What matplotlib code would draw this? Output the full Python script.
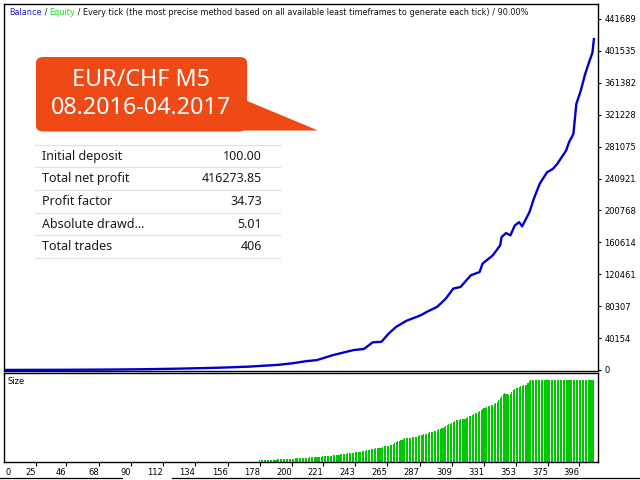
import matplotlib.pyplot as plt
from matplotlib.patches import FancyBboxPatch, Polygon
from matplotlib.lines import Line2D

# balance curve (trade number, balance)
bal_trade = [0, 20, 40, 60, 80, 100, 120, 140, 150, 160, 170, 180, 190, 200, 205,
             210, 217, 228, 242, 249, 255, 261, 266, 271, 278, 288, 292, 299, 305,
             310, 315, 322, 328, 330, 337, 342, 343, 346, 349, 352, 355, 357, 362,
             365, 369, 374, 378, 381, 387, 389, 392, 394, 397, 400, 403, 405, 406]
bal_value = [100, 160, 250, 390, 620, 1000, 1600, 2400, 2900, 3500, 4200, 5300,
             6400, 8400, 9800, 11200, 12500, 18800, 25100, 26400, 34800, 35500,
             46000, 54300, 61900, 69000, 73200, 79400, 90000, 102500, 104500,
             119200, 123300, 133900, 144300, 156800, 167300, 172300, 169400,
             181900, 186100, 180700, 198600, 215500, 234300, 248800, 253100,
             259400, 276100, 286500, 297000, 334700, 351300, 372300, 389000,
             399400, 416374]

# lot size per trade, trades 178..406
size_first_trade = 178
sizes = [0.17, 0.17, 0.18, 0.18, 0.19, 0.20, 0.20, 0.21, 0.22, 0.23,
         0.24, 0.24, 0.25, 0.26, 0.26, 0.27, 0.27, 0.28, 0.29, 0.30,
         0.31, 0.32, 0.33, 0.34, 0.35, 0.36, 0.38, 0.40, 0.40, 0.41,
         0.42, 0.42, 0.43, 0.44, 0.45, 0.46, 0.47, 0.48, 0.49, 0.50,
         0.51, 0.52, 0.53, 0.55, 0.56, 0.57, 0.59, 0.60, 0.62, 0.64,
         0.67, 0.68, 0.70, 0.72, 0.73, 0.75, 0.77, 0.79, 0.81, 0.83,
         0.85, 0.86, 0.88, 0.90, 0.92, 0.95, 0.97, 0.98, 1.00, 1.02,
         1.05, 1.08, 1.10, 1.14, 1.18, 1.22, 1.26, 1.30, 1.33, 1.35,
         1.36, 1.37, 1.38, 1.42, 1.48, 1.54, 1.60, 1.62, 1.62, 1.63,
         1.70, 1.80, 1.90, 2.00, 2.08, 2.12, 2.18, 2.22, 2.28, 2.33,
         2.37, 2.38, 2.40, 2.41, 2.42, 2.43, 2.44, 2.50, 2.56, 2.62,
         2.66, 2.70, 2.72, 2.75, 2.80, 2.86, 2.92, 2.96, 3.00, 3.04,
         3.10, 3.16, 3.22, 3.28, 3.34, 3.40, 3.48, 3.56, 3.64, 3.72,
         3.80, 3.88, 3.96, 4.04, 4.10, 4.14, 4.18, 4.21, 4.24, 4.26,
         4.28, 4.34, 4.42, 4.50, 4.58, 4.66, 4.74, 4.82, 4.88, 4.96,
         5.06, 5.16, 5.26, 5.32, 5.38, 5.44, 5.50, 5.54, 5.60, 5.66,
         5.74, 5.82, 5.90, 6.10, 6.30, 6.50, 6.70, 6.78, 6.74, 6.68,
         6.66, 6.70, 6.90, 7.10, 7.18, 7.26, 7.34, 7.42, 7.48, 7.52,
         7.56, 7.60, 7.64, 7.80, 7.98, 8.10] + [8.10] * 43
size_trade = list(range(size_first_trade, size_first_trade + len(sizes)))

y_ticks = [0, 40154, 80307, 120461, 160614, 200768, 240921, 281075, 321228,
           361382, 401535, 441689]
x_ticks = [25, 46, 68, 90, 112, 134, 156, 178, 200, 221, 243, 265, 287, 309,
           331, 353, 375, 396]

table_labels = ['Initial deposit', 'Total net profit', 'Profit factor',
                'Absolute drawd...', 'Total trades']
table_values = ['100.00', '416273.85', '34.73', '5.01', '406']

callout_lines = ['EUR/CHF M5', '08.2016-04.2017']


def fx(px):
    return px / 640.0


def fy(py):
    return 1 - py / 480.0


fig = plt.figure(figsize=(6.4, 4.8), dpi=100)

ax = fig.add_axes([fx(4.3), fy(370.5), fx(598.3) - fx(4.3), fy(4) - fy(370.5)])
ax2 = fig.add_axes([fx(4.3), fy(462), fx(598.3) - fx(4.3), fy(373) - fy(462)])

xlim = (3.55, 409)

# main balance chart
ax.plot(bal_trade, bal_value, color='#0000cc', lw=1.7, solid_joinstyle='round')
ax.set_xlim(*xlim)
ax.set_ylim(-630, 460560)
ax.set_xticks([])
ax.yaxis.tick_right()
ax.set_yticks(y_ticks)
ax.set_yticklabels([str(v) for v in y_ticks])
ax.tick_params(axis='y', length=2.5, width=0.8, pad=2, labelsize=6)
for s in ax.spines.values():
    s.set_linewidth(1.0)

# title made of coloured pieces
t = ax.text(0.008, 0.978, 'Balance', color='#1a1ad0', fontsize=5.85,
            transform=ax.transAxes, va='center', ha='left')
pieces = [(' / ', '#202020'), ('Equity', '#10e010'),
          (' / Every tick (the most precise method based on all available least '
           'timeframes to generate each tick) / 90.00%', '#111111')]
for txt, col in pieces:
    t = ax.annotate(txt, xy=(1, 0), xycoords=t, va='bottom', ha='left',
                    color=col, fontsize=5.85)

# size panel
ax2.bar(size_trade, sizes, width=0.72, color='#00c800', linewidth=0)
ax2.set_xlim(*xlim)
ax2.set_ylim(0, 8.79)
ax2.set_yticks([])
ax2.set_xticks(x_ticks)
ax2.set_xticklabels([str(v) for v in x_ticks], ha='right')
ax2.tick_params(axis='x', length=3, width=0.8, pad=1.0, labelsize=6)
for s in ax2.spines.values():
    s.set_linewidth(1.0)
ax2.text(0.002, -0.115, '0', transform=ax2.transAxes, fontsize=6,
         ha='left', va='center')
ax2.text(0.005, 0.90, 'Size', transform=ax2.transAxes, fontsize=6,
         ha='left', va='center')

# callout box
box = FancyBboxPatch((fx(36), fy(131.5)), fx(247) - fx(36), fy(57) - fy(131.5),
                     boxstyle='round,pad=0,rounding_size=0.012',
                     transform=fig.transFigure, facecolor='#ef4915',
                     edgecolor='none', zorder=5)
fig.add_artist(box)
tri = Polygon([(fx(245), fy(100)), (fx(318), fy(130.5)), (fx(245), fy(130.5))],
              closed=True, transform=fig.transFigure, facecolor='#ef4915',
              edgecolor='none', zorder=5)
fig.add_artist(tri)
fig.text(fx(141), fy(80), callout_lines[0], color='white', fontsize=16.8,
         family='Noto Sans', ha='center', va='center', zorder=6)
fig.text(fx(141), fy(108.5), callout_lines[1], color='white', fontsize=16.8,
         family='Noto Sans', ha='center', va='center', zorder=6)

# stats table
row_lines = [145, 167.3, 190, 212.7, 235.3, 258.3]
for py in row_lines:
    fig.add_artist(Line2D([fx(35), fx(280)], [fy(py), fy(py)], color='#e2e2e2',
                          lw=0.9, transform=fig.transFigure, zorder=5))
for i, (lab, val) in enumerate(zip(table_labels, table_values)):
    yc = (row_lines[i] + row_lines[i + 1]) / 2
    fig.text(fx(42.5), fy(yc), lab, fontsize=9.0, family='Noto Sans',
             color='#1a1a1a', ha='left', va='center', zorder=6)
    fig.text(fx(262), fy(yc), val, fontsize=9.0, family='Noto Sans',
             color='#1a1a1a', ha='right', va='center', zorder=6)

# tab strip line at the bottom
fig.add_artist(Line2D([0, fx(122)], [fy(478), fy(478)], color='black', lw=0.9,
                      transform=fig.transFigure))
fig.add_artist(Line2D([fx(172), 1], [fy(478), fy(478)], color='black', lw=0.9,
                      transform=fig.transFigure))

plt.savefig('out.png', dpi=100)
